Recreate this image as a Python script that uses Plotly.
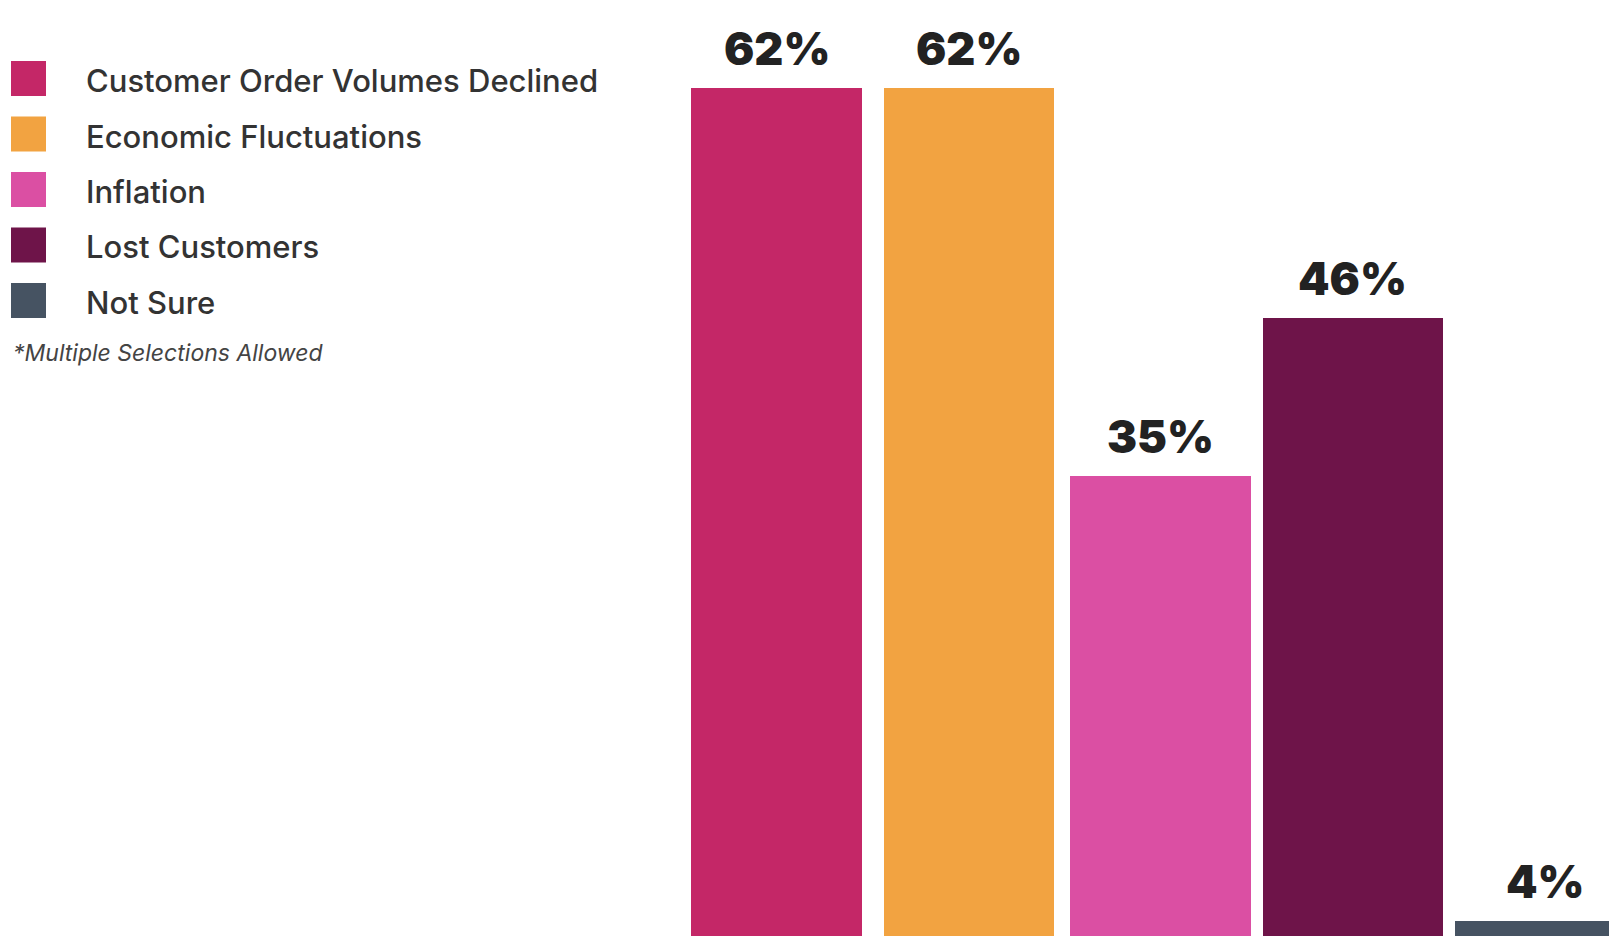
import plotly.graph_objects as go

# Survey responses (multiple selections allowed)
categories = [
    "Customer Order Volumes Declined",
    "Economic Fluctuations",
    "Inflation",
    "Lost Customers",
    "Not Sure",
]
values = [62, 62, 35, 46, 4]
colors = ["#C42767", "#F2A341", "#DB4FA3", "#6E1449", "#465362"]
bar_widths = [0.89, 0.885, 0.942, 0.937, 0.94]
note = "*Multiple Selections Allowed"

W, H = 1609, 936

fig = go.Figure()
fig.add_trace(
    go.Bar(
        x=categories,
        y=values,
        marker=dict(color=colors, line=dict(width=0)),
        width=bar_widths,
        showlegend=False,
        hoverinfo="skip",
    )
)

# Percentage labels sitting above each bar
for cat, v in zip(categories, values):
    fig.add_annotation(
        x=cat, y=v, xref="x", yref="y",
        text=f"{v}%", showarrow=False,
        yanchor="bottom", yshift=10,
        font=dict(family="Inter", size=45, color="#222222", weight=900),
    )

# Custom legend: colour swatches with category names
sw_left, sw_size, row0, row_step = 11, 35, 61, 55.5
for i, (cat, col) in enumerate(zip(categories, colors)):
    top = row0 + i * row_step
    fig.add_shape(
        type="rect", xref="paper", yref="paper",
        x0=sw_left / W, x1=(sw_left + sw_size) / W,
        y0=1 - (top + sw_size) / H, y1=1 - top / H,
        fillcolor=col, line=dict(width=0), layer="above",
    )
    fig.add_annotation(
        x=84 / W, y=1 - (top + sw_size / 2 + 2) / H,
        xref="paper", yref="paper",
        text=cat, showarrow=False,
        xanchor="left", yanchor="middle",
        font=dict(family="Inter", size=31, color="#333333", weight=500),
    )

fig.add_annotation(
    x=11 / W, y=1 - 353 / H, xref="paper", yref="paper",
    text=f"<i>{note}</i>", showarrow=False,
    xanchor="left", yanchor="middle",
    font=dict(family="Inter", size=23, color="#444444"),
)

fig.update_layout(
    width=W, height=H,
    margin=dict(l=0, r=0, t=0, b=0),
    paper_bgcolor="white",
    plot_bgcolor="white",
    bargap=0,
    xaxis=dict(
        type="category",
        range=[-4.043, 4.333],
        visible=False,
        fixedrange=True,
    ),
    yaxis=dict(
        range=[2.96, 68.16],
        visible=False,
        fixedrange=True,
    ),
)

fig.write_html("out.html", config={"displayModeBar": False})
